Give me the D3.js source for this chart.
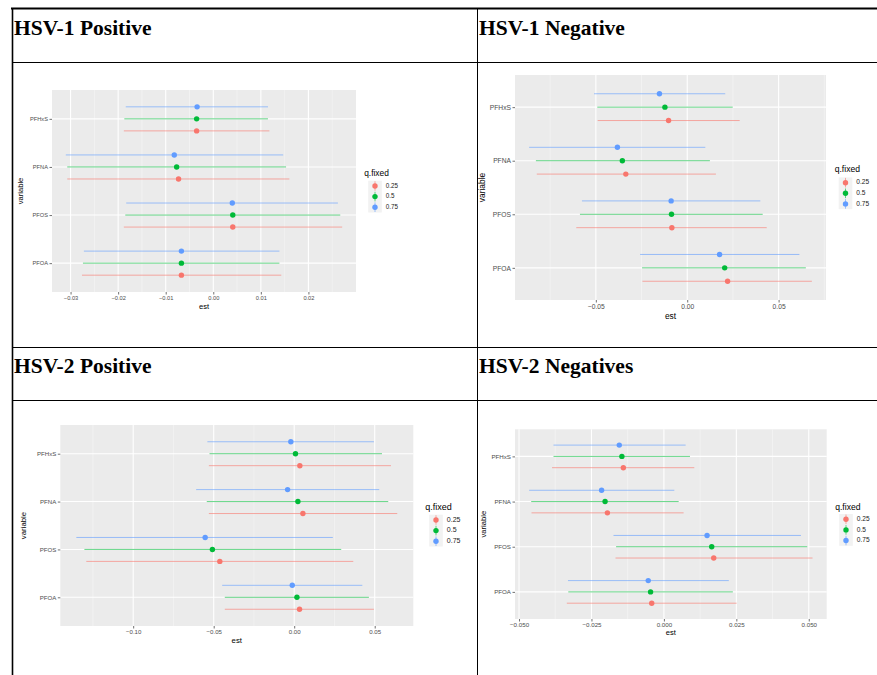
<!DOCTYPE html>
<html>
<head>
<meta charset="utf-8">
<script src="https://cdn.jsdelivr.net/npm/d3@7"></script>
<style>
  body { margin: 0; background: #fff; }
  svg { display: block; }
  .tick text { fill: #4d4d4d; font-family: "Liberation Sans", Arial, sans-serif; }
  .tick line { stroke: #333; stroke-width: 0.7; }
</style>
</head>
<body>
<svg id="chart" width="877" height="675"></svg>
<script>
// categories, top to bottom as drawn
var variables = ["PFHxS", "PFNA", "PFOS", "PFOA"];
var quantiles = ["0.25", "0.5", "0.75"];
var colors = ["#F8766D", "#00BA38", "#619CFF"];

// HSV-1 Positive : rows = quantile 0.25, 0.5, 0.75 ; cols = variables
var hsv1PosEst = [[-0.0035, -0.0073, 0.0041, -0.0067], [-0.0035, -0.0077, 0.0041, -0.0067], [-0.0034, -0.0082, 0.0040, -0.0067]];
var hsv1PosLo  = [[-0.0188, -0.0307, -0.0188, -0.0276], [-0.0187, -0.0307, -0.0185, -0.0274], [-0.0184, -0.0310, -0.0183, -0.0272]];
var hsv1PosHi  = [[0.0118, 0.0160, 0.0271, 0.0143], [0.0115, 0.0153, 0.0267, 0.0139], [0.0115, 0.0147, 0.0262, 0.0139]];
var hsv1PosTicks = [-0.03, -0.02, -0.01, 0.00, 0.01, 0.02];

// HSV-1 Negative
var hsv1NegEst = [[-0.0102, -0.0336, -0.0084, 0.0221], [-0.0122, -0.0355, -0.0086, 0.0205], [-0.0152, -0.0382, -0.0088, 0.0177]];
var hsv1NegLo  = [[-0.0490, -0.0823, -0.0607, -0.0245], [-0.0492, -0.0828, -0.0587, -0.0247], [-0.0510, -0.0865, -0.0576, -0.0258]];
var hsv1NegHi  = [[0.0287, 0.0157, 0.0435, 0.0682], [0.0249, 0.0124, 0.0413, 0.0649], [0.0208, 0.0099, 0.0400, 0.0614]];
var hsv1NegTicks = [-0.05, 0.00, 0.05];

// HSV-2 Positive
var hsv2PosEst = [[0.0035, 0.0054, -0.0462, 0.0033], [0.0008, 0.0023, -0.0508, 0.0017], [-0.0021, -0.0041, -0.0553, -0.0012]];
var hsv2PosLo  = [[-0.0530, -0.0530, -0.1291, -0.0431], [-0.0526, -0.0543, -0.1303, -0.0431], [-0.0539, -0.0609, -0.1353, -0.0447]];
var hsv2PosHi  = [[0.0601, 0.0640, 0.0367, 0.0495], [0.0545, 0.0584, 0.0292, 0.0464], [0.0495, 0.0528, 0.0240, 0.0423]];
var hsv2PosTicks = [-0.10, -0.05, 0.00, 0.05];

// HSV-2 Negatives
var hsv2NegEst = [[-0.0140, -0.0195, 0.0172, -0.0042], [-0.0145, -0.0203, 0.0165, -0.0046], [-0.0154, -0.0215, 0.0149, -0.0054]];
var hsv2NegLo  = [[-0.0386, -0.0457, -0.0167, -0.0335], [-0.0381, -0.0458, -0.0165, -0.0330], [-0.0381, -0.0465, -0.0174, -0.0331]];
var hsv2NegHi  = [[0.0105, 0.0068, 0.0513, 0.0251], [0.0090, 0.0051, 0.0495, 0.0238], [0.0075, 0.0036, 0.0473, 0.0224]];
var hsv2NegTicks = [-0.050, -0.025, 0.000, 0.025, 0.050];

var headers = [["HSV-1 Positive", "HSV-1 Negative"], ["HSV-2 Positive", "HSV-2 Negatives"]];

var svg = d3.select("#chart");
svg.append("rect").attr("width", 877).attr("height", 675).attr("fill", "#fff");

// panel layout (page coords)
var panels = [
    { est: hsv1PosEst, lo: hsv1PosLo, hi: hsv1PosHi, ticks: hsv1PosTicks, fmt: ".2f",
      x0: 52, x1: 356, y0: 90, y1: 292, fs: 5.7, tfs: 7.6,
      varX: 21, estY: 307, lgX: 375, lgY: 186, lgT: 174, lgFs: 6.3, lgTfs: 8.4 },
    { est: hsv1NegEst, lo: hsv1NegLo, hi: hsv1NegHi, ticks: hsv1NegTicks, fmt: ".2f",
      x0: 515, x1: 826, y0: 75, y1: 300, fs: 6.7, tfs: 8.4,
      varX: 483, estY: 317, lgX: 845.5, lgY: 182.7, lgT: 169.7, lgFs: 6.6, lgTfs: 8.6 },
    { est: hsv2PosEst, lo: hsv2PosLo, hi: hsv2PosHi, ticks: hsv2PosTicks, fmt: ".2f",
      x0: 60.3, x1: 413.3, y0: 425, y1: 626, fs: 6.1, tfs: 7.8,
      varX: 23.5, estY: 641, lgX: 436, lgY: 520, lgT: 507.5, lgFs: 7, lgTfs: 9 },
    { est: hsv2NegEst, lo: hsv2NegLo, hi: hsv2NegHi, ticks: hsv2NegTicks, fmt: ".3f",
      x0: 515, x1: 826.7, y0: 429.3, y1: 619, fs: 6.2, tfs: 7.6,
      varX: 483.5, estY: 632.5, lgX: 846, lgY: 519.3, lgT: 508, lgFs: 6.6, lgTfs: 8.6 }
];

panels.forEach(function (p) {
    var all = d3.merge(p.lo.concat(p.hi));
    var mn = d3.min(all), mx = d3.max(all), pad = (mx - mn) * 0.05;
    var x = d3.scaleLinear().domain([mn - pad, mx + pad]).range([p.x0, p.x1]);
    var y = d3.scalePoint().domain(variables).range([p.y0, p.y1]).padding(0.6);
    var step = y.step();

    var g = svg.append("g");
    g.append("rect")
        .attr("x", p.x0).attr("y", p.y0)
        .attr("width", p.x1 - p.x0).attr("height", p.y1 - p.y0)
        .attr("fill", "#ebebeb");

    // minor grid: midpoints between major ticks, plus one beyond each end
    var tstep = p.ticks[1] - p.ticks[0];
    var minor = [];
    for (var k = -1; k < p.ticks.length; k++) {
        var v = p.ticks[0] + (k + 0.5) * tstep;
        if (v > x.domain()[0] && v < x.domain()[1]) minor.push(v);
    }
    g.selectAll(".minor").data(minor).enter().append("line")
        .attr("x1", function (d) { return x(d); }).attr("x2", function (d) { return x(d); })
        .attr("y1", p.y0).attr("y2", p.y1)
        .attr("stroke", "#f7f7f7").attr("stroke-width", 0.6);
    g.selectAll(".major").data(p.ticks).enter().append("line")
        .attr("x1", function (d) { return x(d); }).attr("x2", function (d) { return x(d); })
        .attr("y1", p.y0).attr("y2", p.y1)
        .attr("stroke", "#fff").attr("stroke-width", 1.1);
    g.selectAll(".hgrid").data(variables).enter().append("line")
        .attr("x1", p.x0).attr("x2", p.x1)
        .attr("y1", function (d) { return y(d); }).attr("y2", function (d) { return y(d); })
        .attr("stroke", "#fff").attr("stroke-width", 1.1);

    // ranges and points
    quantiles.forEach(function (q, qi) {
        var off = (1 - qi) * 0.25 * step;
        var rows = variables.map(function (v, vi) {
            return { v: v, est: p.est[qi][vi], lo: p.lo[qi][vi], hi: p.hi[qi][vi] };
        });
        g.selectAll(".rng" + qi).data(rows).enter().append("line")
            .attr("x1", function (d) { return x(d.lo); }).attr("x2", function (d) { return x(d.hi); })
            .attr("y1", function (d) { return y(d.v) + off; }).attr("y2", function (d) { return y(d.v) + off; })
            .attr("stroke", colors[qi]).attr("stroke-width", 1).attr("stroke-opacity", 0.6);
        g.selectAll(".pt" + qi).data(rows).enter().append("circle")
            .attr("cx", function (d) { return x(d.est); })
            .attr("cy", function (d) { return y(d.v) + off; })
            .attr("r", 2.7).attr("fill", colors[qi]);
    });

    // axes
    var ax = g.append("g").attr("transform", "translate(0," + p.y1 + ")")
        .call(d3.axisBottom(x).tickValues(p.ticks).tickSize(2.5).tickPadding(1.5).tickFormat(d3.format(p.fmt)));
    ax.select(".domain").remove();
    ax.selectAll("text").attr("font-size", p.fs);
    var ay = g.append("g").attr("transform", "translate(" + p.x0 + ",0)")
        .call(d3.axisLeft(y).tickSize(2.5).tickPadding(1.5));
    ay.select(".domain").remove();
    ay.selectAll("text").attr("font-size", p.fs);

    g.append("text")
        .attr("x", (p.x0 + p.x1) / 2).attr("y", p.estY)
        .attr("text-anchor", "middle").attr("dominant-baseline", "middle")
        .attr("font-family", "Liberation Sans, Arial, sans-serif").attr("font-size", p.tfs)
        .attr("fill", "#000").text("est");
    g.append("text")
        .attr("transform", "translate(" + p.varX + "," + (p.y0 + p.y1) / 2 + ") rotate(-90)")
        .attr("text-anchor", "middle").attr("dominant-baseline", "middle")
        .attr("font-family", "Liberation Sans, Arial, sans-serif").attr("font-size", p.tfs)
        .attr("fill", "#000").text("variable");

    // legend
    var kh = 10.6, kw = 13.6;
    var lg = g.append("g");
    lg.append("text")
        .attr("x", p.lgX - kw / 2 - 4).attr("y", p.lgT)
        .attr("dominant-baseline", "middle")
        .attr("font-family", "Liberation Sans, Arial, sans-serif").attr("font-size", p.lgTfs)
        .text("q.fixed");
    lg.append("rect")
        .attr("x", p.lgX - kw / 2).attr("y", p.lgY - kh / 2)
        .attr("width", kw).attr("height", kh * 3)
        .attr("fill", "#f2f2f2");
    quantiles.forEach(function (q, qi) {
        var cy = p.lgY + qi * kh;
        lg.append("line")
            .attr("x1", p.lgX).attr("x2", p.lgX)
            .attr("y1", cy - kh / 2 + 0.5).attr("y2", cy + kh / 2 - 0.5)
            .attr("stroke", colors[qi]).attr("stroke-width", 1).attr("stroke-opacity", 0.6);
        lg.append("circle").attr("cx", p.lgX).attr("cy", cy).attr("r", 2.7).attr("fill", colors[qi]);
        lg.append("text")
            .attr("x", p.lgX + kw / 2 + 4).attr("y", cy)
            .attr("dominant-baseline", "middle")
            .attr("font-family", "Liberation Sans, Arial, sans-serif").attr("font-size", p.lgFs)
            .attr("fill", "#1a1a1a").text(q);
    });
});

// table grid
var tbl = svg.append("g").attr("stroke", "#000").attr("fill", "none");
tbl.append("line").attr("x1", 11).attr("x2", 877).attr("y1", 8.5).attr("y2", 8.5).attr("stroke-width", 1.8);
tbl.append("line").attr("x1", 12.5).attr("x2", 12.5).attr("y1", 8).attr("y2", 675).attr("stroke-width", 1.6);
tbl.append("line").attr("x1", 477.5).attr("x2", 477.5).attr("y1", 8).attr("y2", 675).attr("stroke-width", 1);
[62.5, 347.5, 400.5].forEach(function (yy) {
    tbl.append("line").attr("x1", 12).attr("x2", 877).attr("y1", yy).attr("y2", yy).attr("stroke-width", 1);
});

// cell headers
var headerY = [35, 373], headerX = [14, 479];
headers.forEach(function (row, ri) {
    row.forEach(function (h, ci) {
        svg.append("text")
            .attr("x", headerX[ci]).attr("y", headerY[ri])
            .attr("font-family", "Liberation Serif, Times New Roman, serif")
            .attr("font-weight", "bold").attr("font-size", 21.5)
            .attr("fill", "#000").text(h);
    });
});
</script>
</body>
</html>
